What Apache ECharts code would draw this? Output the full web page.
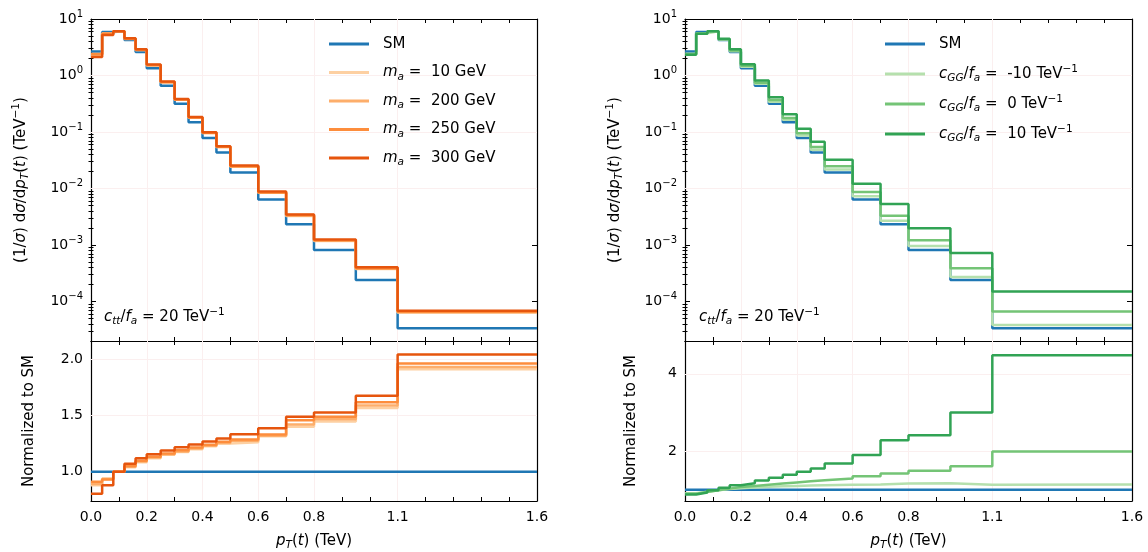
<!DOCTYPE html>
<html>
<head>
<meta charset="utf-8">
<script src="https://cdn.jsdelivr.net/npm/echarts@6/dist/echarts.min.js"></script>
<style>
  html, body { margin: 0; padding: 0; background: #fff; }
  #chart { width: 1148px; height: 552px; }
</style>
</head>
<body>
<div id="chart"></div>
<script>
// bin edges of p_T(t), TeV
var binEdges = [0, 0.04, 0.08, 0.12, 0.16, 0.2, 0.25, 0.3, 0.35, 0.4, 0.45, 0.5, 0.6, 0.7, 0.8, 0.95, 1.1, 1.6];

// (1/sigma) dsigma/dpT, TeV^-1
var smDist     = [2.65, 5.9, 6.1, 4.26, 2.6, 1.35, 0.66, 0.316, 0.149, 0.078, 0.0434, 0.0192, 0.0064, 0.00233, 0.00082, 0.00024, 3.35e-5];
var ma10Dist   = [2.33, 5.55, 6.1, 4.43, 2.82, 1.51, 0.759, 0.371, 0.179, 0.0956, 0.0543, 0.0242, 0.00842, 0.00326, 0.00118, 0.000376, 6.4e-5];
var ma200Dist  = [2.36, 5.52, 6.1, 4.45, 2.83, 1.52, 0.762, 0.373, 0.180, 0.0959, 0.0545, 0.0245, 0.00845, 0.00331, 0.00120, 0.000381, 6.47e-5];
var ma250Dist  = [2.41, 5.49, 6.1, 4.47, 2.85, 1.53, 0.767, 0.376, 0.181, 0.0967, 0.0549, 0.0247, 0.00851, 0.00339, 0.00122, 0.000388, 6.57e-5];
var ma300Dist  = [2.13, 5.19, 6.1, 4.56, 2.91, 1.56, 0.784, 0.385, 0.185, 0.0988, 0.0562, 0.0256, 0.00887, 0.00346, 0.00125, 0.000402, 6.83e-5];
var cggM10Dist = [2.41, 5.61, 6.04, 4.35, 2.70, 1.43, 0.713, 0.344, 0.164, 0.0866, 0.0486, 0.0217, 0.0073, 0.0027, 0.00096, 0.000271, 3.82e-5];
var cgg0Dist   = [2.39, 5.55, 6.04, 4.39, 2.78, 1.49, 0.746, 0.367, 0.177, 0.0952, 0.0543, 0.0248, 0.00864, 0.00331, 0.00122, 0.000386, 6.67e-5];
var cggP10Dist = [2.33, 5.49, 6.04, 4.47, 2.91, 1.58, 0.818, 0.414, 0.207, 0.1147, 0.0673, 0.0323, 0.01216, 0.00531, 0.00198, 0.00072, 1.50e-4];

// normalized to SM
var smRatio     = [1, 1, 1, 1, 1, 1, 1, 1, 1, 1, 1, 1, 1, 1, 1, 1, 1];
var ma10Ratio   = [0.88, 0.94, 1.0, 1.04, 1.085, 1.12, 1.15, 1.175, 1.2, 1.225, 1.25, 1.262, 1.315, 1.40, 1.445, 1.566, 1.91];
var ma200Ratio  = [0.89, 0.935, 1.0, 1.045, 1.09, 1.125, 1.155, 1.18, 1.205, 1.23, 1.255, 1.275, 1.32, 1.42, 1.465, 1.587, 1.93];
var ma250Ratio  = [0.91, 0.93, 1.0, 1.05, 1.097, 1.133, 1.162, 1.19, 1.215, 1.24, 1.265, 1.286, 1.33, 1.457, 1.487, 1.616, 1.96];
var ma300Ratio  = [0.805, 0.88, 1.0, 1.07, 1.12, 1.156, 1.188, 1.217, 1.242, 1.267, 1.295, 1.333, 1.386, 1.487, 1.525, 1.673, 2.04];
var cggM10Ratio = [0.91, 0.95, 0.99, 1.02, 1.04, 1.06, 1.08, 1.09, 1.10, 1.11, 1.12, 1.13, 1.14, 1.16, 1.17, 1.13, 1.14];
var cgg0Ratio   = [0.9, 0.94, 0.99, 1.03, 1.07, 1.1, 1.13, 1.16, 1.19, 1.22, 1.25, 1.29, 1.35, 1.42, 1.49, 1.61, 1.99];
var cggP10Ratio = [0.88, 0.93, 0.99, 1.05, 1.12, 1.17, 1.24, 1.31, 1.39, 1.47, 1.55, 1.68, 1.90, 2.28, 2.41, 3.0, 4.48];

// ticks
var xTicks = [0, 0.1, 0.2, 0.3, 0.4, 0.5, 0.6, 0.7, 0.8, 0.9, 1.0, 1.1, 1.2, 1.3, 1.4, 1.5, 1.6];
var xTickLabels = [0, 0.2, 0.4, 0.6, 0.8, 1.1, 1.6];
var logTicks = [1e-4, 1e-3, 1e-2, 1e-1, 1, 10];
var ratioTicksLeft = [1.0, 1.5, 2.0];
var ratioTicksRight = [2, 4];

var FONT = 'DejaVu Sans';
var C_SM = '#1f77b4';
var C_MA = ['#fdd0a2', '#fdae6b', '#fd8d3c', '#e6550d'];
var C_GG = ['#b5e0ad', '#74c476', '#31a354'];

var logMinor = [];
[-5, -4, -3, -2, -1, 0].forEach(function (e) {
  for (var k = 2; k <= 9; k++) {
    var v = k * Math.pow(10, e);
    if (v > 2.05e-5 && v < 10) logMinor.push(v);
  }
});

var rich = {
  i: { fontFamily: FONT, fontStyle: 'italic', fontSize: 15, lineHeight: 20 },
  s: { fontFamily: FONT, fontStyle: 'italic', fontSize: 10.5, lineHeight: 11, verticalAlign: 'bottom' },
  p: { fontFamily: FONT, fontSize: 10.5, lineHeight: 11, verticalAlign: 'top' }
};

function stepData(vals) {
  var d = vals.map(function (v, i) { return [binEdges[i], v]; });
  d.push([binEdges[binEdges.length - 1], vals[vals.length - 1]]);
  return d;
}

function stepSeries(name, color, vals, xi, yi, extra) {
  var s = {
    name: name, type: 'line', step: 'end', z: 3,
    xAxisIndex: xi, yAxisIndex: yi,
    data: stepData(vals), symbol: 'none', showSymbol: false,
    lineStyle: { color: color, width: 2.5 }, itemStyle: { color: color },
    silent: true, animation: false
  };
  if (extra) s.markLine = extra;
  return s;
}

function gridLines(xs, ys) {
  var data = xs.map(function (x) { return { xAxis: x }; })
    .concat(ys.map(function (y) { return { yAxis: y }; }));
  return {
    z: 1, silent: true, symbol: ['none', 'none'], label: { show: false },
    lineStyle: { color: '#fbefef', width: 1, type: 'solid' },
    emphasis: { disabled: true }, animation: false, data: data
  };
}

var axisLine = { show: true, onZero: false, lineStyle: { color: '#000', width: 1.2 } };

function xAx(grid, pos, labels, name) {
  return {
    type: 'value', gridIndex: grid, position: pos, min: 0, max: 1.6,
    axisLine: axisLine,
    axisTick: { show: true, inside: true, length: 4, customValues: xTicks, lineStyle: { color: '#000', width: 1 } },
    axisLabel: labels ? {
      show: true, customValues: xTickLabels, margin: 9,
      fontFamily: FONT, fontSize: 14, color: '#000',
      formatter: function (v) { return v.toFixed(1); }
    } : { show: false },
    splitLine: { show: false },
    name: name || '', nameLocation: 'middle', nameGap: 30,
    nameTextStyle: { fontFamily: FONT, fontSize: 15, color: '#000', lineHeight: 20, rich: rich }
  };
}

function yLog(grid, pos, minor, name, gap) {
  return {
    type: 'log', logBase: 10, gridIndex: grid, position: pos, min: 2e-5, max: 10,
    axisLine: minor ? { show: false } : axisLine,
    axisTick: { show: true, inside: true, length: minor ? 2.5 : 5,
      customValues: minor ? logMinor : logTicks, lineStyle: { color: '#000', width: 1 } },
    axisLabel: (!minor && pos === 'left') ? {
      show: true, customValues: logTicks, margin: 8,
      fontFamily: FONT, fontSize: 14, color: '#000', lineHeight: 20,
      rich: { p: { fontFamily: FONT, fontSize: 10, lineHeight: 10, verticalAlign: 'top' } },
      formatter: function (v) {
        var e = Math.round(Math.log10(v));
        return '10{p|' + (e < 0 ? '\u2212' + (-e) : e) + '}';
      }
    } : { show: false },
    splitLine: { show: false },
    name: name || '', nameLocation: 'middle', nameGap: gap || 0, nameRotate: 90,
    nameTextStyle: { fontFamily: FONT, fontSize: 15, color: '#000', lineHeight: 20, rich: rich }
  };
}

function yRatio(grid, pos, min, max, ticks, digits, name, gap) {
  return {
    type: 'value', gridIndex: grid, position: pos, min: min, max: max,
    axisLine: axisLine,
    axisTick: { show: true, inside: true, length: 5, customValues: ticks, lineStyle: { color: '#000', width: 1 } },
    axisLabel: pos === 'left' ? {
      show: true, customValues: ticks, margin: 8,
      fontFamily: FONT, fontSize: 14, color: '#000',
      formatter: function (v) { return v.toFixed(digits); }
    } : { show: false },
    splitLine: { show: false },
    name: name || '', nameLocation: 'middle', nameGap: gap || 0, nameRotate: 90,
    nameTextStyle: { fontFamily: FONT, fontSize: 15, color: '#000' }
  };
}

var yTitle = '(1/{i|\u03c3}) d{i|\u03c3}/d{i|p}{s|T}({i|t}) (TeV{p|\u22121})';
var xTitle = '{i|p}{s|T}({i|t}) (TeV)';

var grids = [
  { left: 91, top: 19, width: 446, height: 322 },
  { left: 91, top: 341, width: 446, height: 161 },
  { left: 685, top: 19, width: 447, height: 322 },
  { left: 685, top: 341, width: 447, height: 161 }
];

var xAxes = [
  xAx(0, 'bottom'), xAx(0, 'top'),
  xAx(1, 'bottom', true, xTitle), xAx(1, 'top'),
  xAx(2, 'bottom'), xAx(2, 'top'),
  xAx(3, 'bottom', true, xTitle), xAx(3, 'top')
];

var yAxes = [
  yLog(0, 'left', false, yTitle, 60), yLog(0, 'left', true), yLog(0, 'right', false), yLog(0, 'right', true),
  yRatio(1, 'left', 0.74, 2.16, ratioTicksLeft, 1, 'Normalized to SM', 54), yRatio(1, 'right', 0.74, 2.16, ratioTicksLeft, 1),
  yLog(2, 'left', false, yTitle, 60), yLog(2, 'left', true), yLog(2, 'right', false), yLog(2, 'right', true),
  yRatio(3, 'left', 0.71, 4.85, ratioTicksRight, 0, 'Normalized to SM', 46), yRatio(3, 'right', 0.71, 4.85, ratioTicksRight, 0)
];

var gx = [0.2, 0.4, 0.6, 0.8, 1.1];
var series = [
  // left top
  stepSeries('SM', C_SM, smDist, 0, 0, gridLines(gx, [1e-4, 1e-3, 1e-2, 1e-1, 1])),
  stepSeries('ma10', C_MA[0], ma10Dist, 0, 0),
  stepSeries('ma200', C_MA[1], ma200Dist, 0, 0),
  stepSeries('ma250', C_MA[2], ma250Dist, 0, 0),
  stepSeries('ma300', C_MA[3], ma300Dist, 0, 0),
  // left bottom
  stepSeries('SM', C_SM, smRatio, 2, 4, gridLines(gx, [1.5, 2.0])),
  stepSeries('ma10', C_MA[0], ma10Ratio, 2, 4),
  stepSeries('ma200', C_MA[1], ma200Ratio, 2, 4),
  stepSeries('ma250', C_MA[2], ma250Ratio, 2, 4),
  stepSeries('ma300', C_MA[3], ma300Ratio, 2, 4),
  // right top
  stepSeries('SM', C_SM, smDist, 4, 6, gridLines(gx, [1e-4, 1e-3, 1e-2, 1e-1, 1])),
  stepSeries('cggM10', C_GG[0], cggM10Dist, 4, 6),
  stepSeries('cgg0', C_GG[1], cgg0Dist, 4, 6),
  stepSeries('cggP10', C_GG[2], cggP10Dist, 4, 6),
  // right bottom
  stepSeries('SM', C_SM, smRatio, 6, 10, gridLines(gx, [2, 4])),
  stepSeries('cggM10', C_GG[0], cggM10Ratio, 6, 10),
  stepSeries('cgg0', C_GG[1], cgg0Ratio, 6, 10),
  stepSeries('cggP10', C_GG[2], cggP10Ratio, 6, 10)
];

var legendText = {
  'SM': 'SM',
  'ma10': '{i|m}{s|a} =  10 GeV',
  'ma200': '{i|m}{s|a} =  200 GeV',
  'ma250': '{i|m}{s|a} =  250 GeV',
  'ma300': '{i|m}{s|a} =  300 GeV',
  'cggM10': '{i|c}{s|GG}/{i|f}{s|a} =  -10 TeV{p|\u22121}',
  'cgg0': '{i|c}{s|GG}/{i|f}{s|a} =  0 TeV{p|\u22121}',
  'cggP10': '{i|c}{s|GG}/{i|f}{s|a} =  10 TeV{p|\u22121}'
};

function legend(left, top, names, gap) {
  return {
    left: left, top: top, orient: 'vertical', data: names, padding: 0,
    icon: 'rect', itemWidth: 40, itemHeight: 3, itemGap: gap, selectedMode: false,
    textStyle: { fontFamily: FONT, fontSize: 15, color: '#000', lineHeight: 20, padding: [0, 0, 0, 9], rich: rich },
    formatter: function (n) { return legendText[n]; }
  };
}

var note = '{i|c}{s|tt}/{i|f}{s|a} = 20 TeV{p|\u22121}';

var option = {
  backgroundColor: '#fff',
  animation: false,
  grid: grids,
  xAxis: xAxes,
  yAxis: yAxes,
  legend: [
    legend(329, 34, ['SM', 'ma10', 'ma200', 'ma250', 'ma300'], 8.5),
    legend(885, 34, ['SM', 'cggM10', 'cgg0', 'cggP10'], 10)
  ],
  graphic: [
    { type: 'text', left: 104, top: 307, silent: true, z: 10,
      style: { text: note, rich: rich, fontFamily: FONT, fontSize: 15, fill: '#000', lineHeight: 20 } },
    { type: 'text', left: 699, top: 307, silent: true, z: 10,
      style: { text: note, rich: rich, fontFamily: FONT, fontSize: 15, fill: '#000', lineHeight: 20 } }
  ],
  series: series
};

var chart = echarts.init(document.getElementById('chart'), null, { renderer: 'canvas' });
chart.setOption(option);
</script>
</body>
</html>
